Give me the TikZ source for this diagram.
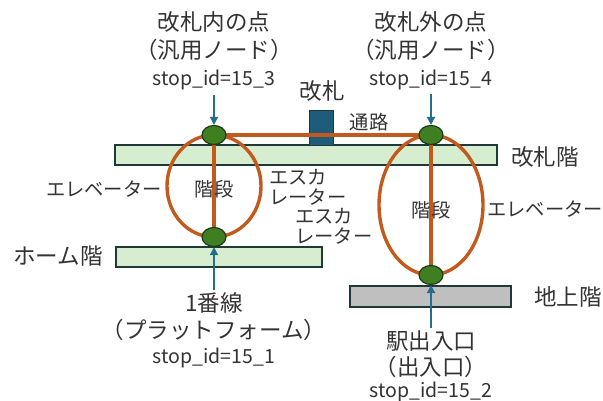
\documentclass[tikz,border=0pt]{standalone}
\usepackage{fontspec}
\setmainfont{Noto Sans CJK JP}
\usetikzlibrary{arrows.meta,shapes.geometric}
\definecolor{route}{HTML}{C25A1E}
\definecolor{nodegreen}{HTML}{3F7F22}
\definecolor{nodeedge}{HTML}{1E3A14}
\definecolor{barfill}{HTML}{D6EDD0}
\definecolor{baredge}{HTML}{1F3838}
\definecolor{groundfill}{HTML}{BFBFBF}
\definecolor{gatecol}{HTML}{1F5C7A}
\definecolor{ptr}{HTML}{236E8A}
\definecolor{txt}{HTML}{333333}
\begin{document}
\begin{tikzpicture}[x=1pt,y=-1pt,
  floorbar/.style={draw=baredge,line width=2pt,fill=barfill},
  groundbar/.style={draw=baredge,line width=2pt,fill=groundfill},
  stopnode/.style={ellipse,draw=nodeedge,line width=1.2pt,fill=nodegreen,minimum width=24pt,minimum height=19pt,inner sep=0pt},
  routeline/.style={draw=route,line width=3.4pt},
  pointer/.style={draw=ptr,line width=2pt,-{Triangle[length=8pt,width=8pt]}},
  bigtxt/.style={text=txt,font=\fontsize{22.5}{26}\selectfont,inner sep=0pt},
  midtxt/.style={text=txt,font=\fontsize{19.3}{20}\selectfont,inner sep=0pt},
  idtxt/.style={text=txt,font=\fontsize{19.5}{22}\selectfont,inner sep=0pt},
]
\useasboundingbox (0,0) rectangle (603,401);
% floors
\node[floorbar,minimum width=382pt,minimum height=20pt,inner sep=0pt] (upper) at (306,155) {};
\node[floorbar,minimum width=206pt,minimum height=20pt,inner sep=0pt] (home) at (219,257) {};
\node[groundbar,minimum width=161pt,minimum height=21pt,inner sep=0pt] (ground) at (430.5,296.5) {};
% gate
\node[fill=gatecol,draw=baredge,line width=0.8pt,minimum width=24pt,minimum height=35pt,inner sep=0pt] (gate) at (321,127.5) {};
% stop node positions
\coordinate (c3) at (214,135);
\coordinate (c1) at (214,237);
\coordinate (c4) at (431,135);
\coordinate (c2) at (431,275);
% routes
\draw[routeline] (c3) -- (c4);
\draw[routeline] (c3) -- (c1);
\draw[routeline] (c4) -- (c2);
\draw[routeline] (c3) arc[start angle=270,end angle=630,x radius=47,y radius=51];
\draw[routeline] (c4) arc[start angle=270,end angle=630,x radius=52,y radius=70];
\node[stopnode] (n3) at (c3) {};
\node[stopnode] (n1) at (c1) {};
\node[stopnode] (n4) at (c4) {};
\node[stopnode] (n2) at (c2) {};
% labels top left
\node[bigtxt] (t3a) at (214,22) {改札内の点};
\node[bigtxt] (t3b) at (214,50) {（汎用ノード）};
\node[idtxt] (t3c) at (214,80) {stop\_id=15\_3};
\coordinate (p3) at (214,95);
\draw[pointer] (p3) -- (n3.north);
% labels top right
\node[bigtxt] (t4a) at (431,22) {改札外の点};
\node[bigtxt] (t4b) at (431,50) {（汎用ノード）};
\node[idtxt] (t4c) at (431,80) {stop\_id=15\_4};
\coordinate (p4) at (431,94);
\draw[pointer] (p4) -- (n4.north);
% bottom left
\node[bigtxt] (t1a) at (214,303) {1番線};
\node[bigtxt] (t1b) at (214,330) {（プラットフォーム）};
\node[idtxt] (t1c) at (214,358) {stop\_id=15\_1};
\coordinate (p1) at (214,290);
\draw[pointer] (p1) -- (n1.south);
% bottom right
\node[bigtxt] (t2a) at (431,341) {駅出入口};
\node[bigtxt] (t2b) at (431,367) {（出入口）};
\node[idtxt] (t2c) at (431,392) {stop\_id=15\_2};
\coordinate (p2) at (431,328);
\draw[pointer] (p2) -- (n2.south);
% other labels
\node[bigtxt] (lgate) at (322,91) {改札};
\node[midtxt] (lpass) at (369,122) {通路};
\node[bigtxt] (lupper) at (545,157) {改札階};
\node[bigtxt] (lhome) at (58,256) {ホーム階};
\node[bigtxt] (lground) at (568,297) {地上階};
\node[midtxt] (lev1) at (104,189) {エレベーター};
\node[midtxt] (lst1) at (214,189) {階段};
\node[midtxt,align=left,anchor=west] (les1) at (269,187) {エスカ\\レーター};
\node[midtxt,align=left,anchor=west] (les2) at (295,226) {エスカ\\レーター};
\node[midtxt] (lst2) at (431,210) {階段};
\node[midtxt] (lev2) at (545,209) {エレベーター};
\end{tikzpicture}
\end{document}
